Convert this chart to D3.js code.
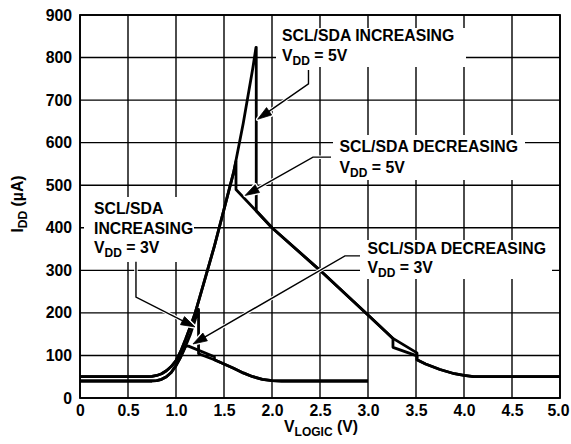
<!DOCTYPE html>
<html>
<head>
<meta charset="utf-8">
<script src="https://cdn.jsdelivr.net/npm/d3@7"></script>
<style>
  html, body { margin: 0; padding: 0; background: #fff; }
  svg { display: block; }
  text { font-family: "Liberation Sans", Arial, Helvetica, sans-serif; font-weight: bold; fill: #000; }
</style>
</head>
<body>
<svg id="chart" width="571" height="444"></svg>
<script>
// ---------------- DATA ----------------
const xTicks = [0, 0.5, 1.0, 1.5, 2.0, 2.5, 3.0, 3.5, 4.0, 4.5, 5.0];
const xTickLabels = ["0", "0.5", "1.0", "1.5", "2.0", "2.5", "3.0", "3.5", "4.0", "4.5", "5.0"];
const yTicks = [0, 100, 200, 300, 400, 500, 600, 700, 800, 900];
const yTickLabels = ["0", "100", "200", "300", "400", "500", "600", "700", "800", "900"];

// SCL/SDA increasing, VDD = 5V   [V_LOGIC (V), I_DD (uA)]
const inc5V = [[0,50],[0.7,50],[0.75,51],[0.8,53],[0.85,57],[0.9,64],[0.95,74],[1.0,88],[1.05,110],[1.1,138],
  [1.15,168],[1.2,200],[1.3,278],[1.4,357],[1.5,443],[1.6,530],[1.7,645],[1.8,775],[1.833,824],
  [1.836,824],[1.836,440],[2.0,400],[2.5,300],[3.0,195],[3.26,140],[3.26,119],[3.51,99],[3.51,90],
  [3.6,80],[3.75,67],[3.9,57],[4.0,53],[4.1,50],[5.0,50]];
// SCL/SDA decreasing, VDD = 5V
const dec5V = [[0,50],[0.7,50],[0.75,51],[0.8,53],[0.85,57],[0.9,64],[0.95,74],[1.0,88],[1.05,110],[1.1,138],
  [1.15,168],[1.2,200],[1.3,278],[1.4,357],[1.5,443],[1.6,530],[1.625,556],[1.625,490],[2.0,400],
  [2.5,300],[3.0,195],[3.26,140],[3.51,106],[3.51,90],[3.6,80],[3.75,67],[3.9,57],[4.0,53],[4.1,50],[5.0,50]];
// SCL/SDA increasing, VDD = 3V
const inc3V = [[0,40],[0.75,40],[0.8,41],[0.85,44],[0.9,50],[0.95,60],[1.0,76],[1.05,97],[1.1,122],
  [1.15,150],[1.2,184],[1.23,208],[1.235,208],[1.235,104],[1.40,90],[1.5,80],[1.6,70],[1.7,59],
  [1.8,50],[1.9,44],[2.0,41],[2.1,40],[3.0,40]];
// SCL/SDA decreasing, VDD = 3V
const dec3V = [[0,40],[0.75,40],[0.8,41],[0.85,44],[0.9,50],[0.95,60],[1.0,76],[1.05,97],[1.1,122],
  [1.13,122],[1.40,97],[1.40,90],[1.5,80],[1.6,70],[1.7,59],[1.8,50],[1.9,44],[2.0,41],[2.1,40],[3.0,40]];

// ---------------- LAYOUT ----------------
const svg = d3.select("#chart");
const x = d3.scaleLinear().domain([0, 5]).range([80, 560]);
const y = d3.scaleLinear().domain([0, 900]).range([398, 15]);

const FS = 15.8, SUB = 12;

// grid
const g = svg.append("g");
g.selectAll("line.v").data(xTicks).join("line")
  .attr("x1", d => x(d)).attr("x2", d => x(d)).attr("y1", y(0)).attr("y2", y(900))
  .attr("stroke", "#000").attr("stroke-width", 1.4);
g.selectAll("line.h").data(yTicks).join("line")
  .attr("y1", d => y(d)).attr("y2", d => y(d)).attr("x1", x(0)).attr("x2", x(5))
  .attr("stroke", "#000").attr("stroke-width", 1.4);

// axes (labels only, ticks hidden)
const xAxis = d3.axisBottom(x).tickValues(xTicks).tickFormat((d, i) => xTickLabels[i]).tickSize(0).tickPadding(8);
const yAxis = d3.axisLeft(y).tickValues(yTicks).tickFormat((d, i) => yTickLabels[i]).tickSize(0).tickPadding(8);
const gx = svg.append("g").attr("transform", `translate(0,${y(0)})`).call(xAxis);
const gy = svg.append("g").attr("transform", `translate(${x(0)},0)`).call(yAxis);
[gx, gy].forEach(a => {
  a.select(".domain").remove();
  a.selectAll("text").attr("font-size", FS).attr("font-family", "Liberation Sans, Arial, sans-serif").attr("font-weight", "bold").attr("fill", "#000");
});
gx.selectAll("text").attr("dy", "0.71em").attr("y", 7);
gx.selectAll("text").filter((d, i) => i === xTicks.length - 1).attr("dx", -2);

// curves
const line = d3.line().x(d => x(d[0])).y(d => y(d[1])).curve(d3.curveLinear);
[inc5V, dec5V, inc3V, dec3V].forEach(s => {
  svg.append("path").attr("d", line(s)).attr("fill", "none").attr("stroke", "#000")
    .attr("stroke-width", 2.8).attr("stroke-linejoin", "round").attr("stroke-linecap", "butt");
});

// frame
svg.append("rect").attr("x", x(0)).attr("y", y(900)).attr("width", x(5) - x(0)).attr("height", y(0) - y(900))
  .attr("fill", "none").attr("stroke", "#000").attr("stroke-width", 1.8);

// annotation boxes
const boxes = [
  { rect: [276, 28, 466, 67], lines: [["SCL/SDA INCREASING"], ["V", "DD", " = 5V"]], tx: 282, ty: [41, 60.5] },
  { rect: [333, 135, 525, 180], lines: [["SCL/SDA DECREASING"], ["V", "DD", " = 5V"]], tx: 339.5, ty: [152, 173] },
  { rect: [84, 197, 194, 262], lines: [["SCL/SDA"], ["INCREASING"], ["V", "DD", " = 3V"]], tx: 94, ty: [213.5, 233.5, 253] },
  { rect: [360, 240, 552, 279], lines: [["SCL/SDA DECREASING"], ["V", "DD", " = 3V"]], tx: 367.5, ty: [254, 273] }
];
function richText(sel, parts, fs) {
  sel.append("tspan").attr("font-size", fs).text(parts[0]);
  if (parts.length > 1) {
    sel.append("tspan").attr("font-size", SUB).attr("dy", 4).text(parts[1]);
    sel.append("tspan").attr("font-size", fs).attr("dy", -4).text(parts[2]);
  }
}
boxes.forEach(b => {
  svg.append("rect").attr("x", b.rect[0]).attr("y", b.rect[1])
    .attr("width", b.rect[2] - b.rect[0]).attr("height", b.rect[3] - b.rect[1]).attr("fill", "#fff");
  b.lines.forEach((parts, i) => {
    const t = svg.append("text").attr("x", b.tx).attr("y", b.ty[i]).attr("font-size", FS);
    richText(t, parts, FS);
  });
});

// arrows (in data units)
const arrows = [
  [[2.38, 771], [2.38, 738], [1.85, 655]],
  [[2.615, 566], [2.427, 566], [1.72, 476]],
  [[0.583, 320], [0.583, 237], [1.198, 167]],
  [[2.917, 334], [2.76, 334], [1.177, 127]]
];
arrows.forEach(a => {
  const pts = a.map(p => [x(p[0]), y(p[1])]);
  const tip = pts[pts.length - 1], prev = pts[pts.length - 2];
  const dx = tip[0] - prev[0], dy = tip[1] - prev[1], L = Math.hypot(dx, dy);
  const ux = dx / L, uy = dy / L, len = 14, hw = 4.5;
  const bx = tip[0] - ux * len, by = tip[1] - uy * len;
  const head = [tip, [bx - uy * hw, by + ux * hw], [bx + uy * hw, by - ux * hw]];
  const shaft = pts.slice(0, -1).concat([[bx + ux * 2, by + uy * 2]]);
  const lg = d3.line();
  svg.append("path").attr("d", lg(shaft)).attr("fill", "none").attr("stroke", "#fff").attr("stroke-width", 3.5);
  svg.append("path").attr("d", lg(head) + "Z").attr("fill", "#fff").attr("stroke", "#fff").attr("stroke-width", 3.5).attr("stroke-linejoin", "round");
  svg.append("path").attr("d", lg(shaft)).attr("fill", "none").attr("stroke", "#000").attr("stroke-width", 1.4);
  svg.append("path").attr("d", lg(head) + "Z").attr("fill", "#000").attr("stroke", "#000").attr("stroke-width", 0.8);
});

// axis titles
const xt = svg.append("text").attr("x", 321).attr("y", 432).attr("text-anchor", "middle").attr("font-size", FS);
richText(xt, ["V", "LOGIC", " (V)"], FS);
const yt = svg.append("text").attr("transform", "translate(23,204) rotate(-90)").attr("text-anchor", "middle").attr("font-size", FS);
richText(yt, ["I", "DD", " (µA)"], FS);
</script>
</body>
</html>
